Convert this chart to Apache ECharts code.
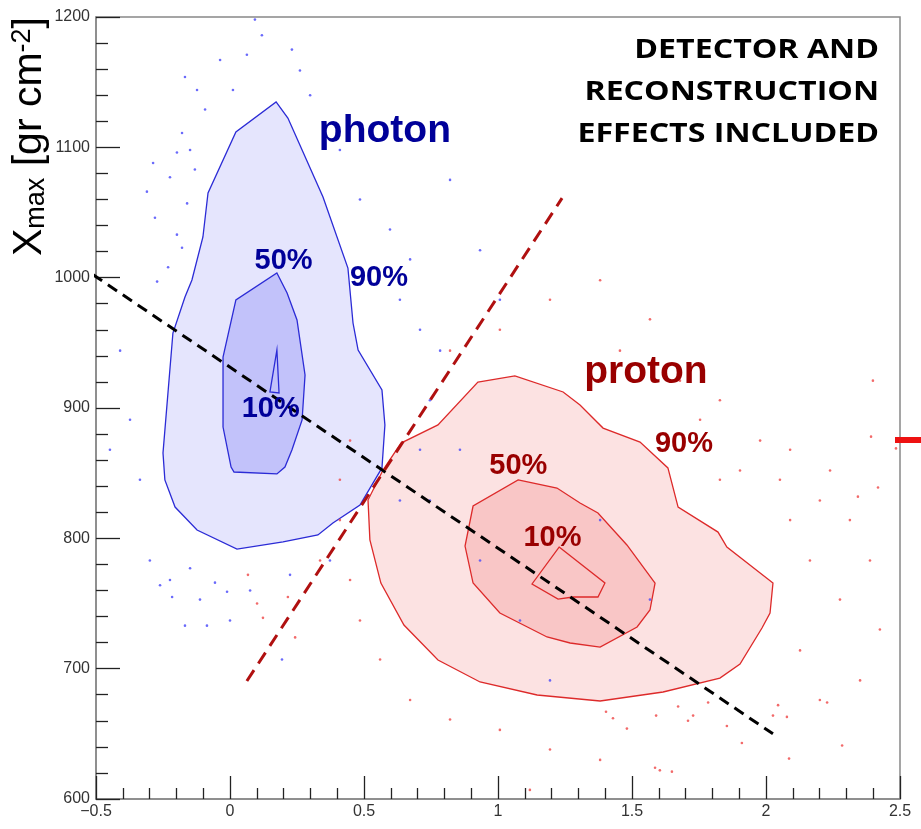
<!DOCTYPE html>
<html><head><meta charset="utf-8">
<script src="https://cdn.jsdelivr.net/npm/echarts@6/dist/echarts.min.js"></script>
<style>html,body{margin:0;padding:0;background:#fff}#c{width:921px;height:829px}</style>
</head><body><div id="c"></div>
<script>
// ---- tick labels ----
const xTickValues = [-0.5, 0, 0.5, 1, 1.5, 2, 2.5];
const xTickLabels = ['\u22120.5', '0', '0.5', '1', '1.5', '2', '2.5'];
const yTickValues = [600, 700, 800, 900, 1000, 1100, 1200];
const yTickLabels = ['600', '700', '800', '900', '1000', '1100', '1200'];

// ---- contours (x, Xmax) ----
const photon90 = [[0.172,1134.8],[0.216,1122.5],[0.347,1061.9],[0.440,1007.4],[0.459,965.2],[0.478,944.5],[0.567,913.8],[0.578,887.0],[0.567,854.0],[0.485,825.6],[0.384,811.8],[0.328,802.6],[0.198,797.2],[0.026,791.8],[-0.123,806.4],[-0.205,824.0],[-0.243,844.8],[-0.250,865.5],[-0.213,957.5],[-0.168,985.2],[-0.142,998.2],[-0.101,1031.2],[-0.082,1065.0],[0.022,1111.8]];
const photon50 = [[0.175,1003.6],[0.213,988.2],[0.250,967.5],[0.280,925.3],[0.269,890.8],[0.231,867.8],[0.205,854.7],[0.175,849.4],[0.015,850.9],[0.004,854.7],[-0.026,885.4],[-0.026,939.1],[0.022,982.9]];
const photon10 = [[0.175,944.5],[0.183,911.5],[0.149,912.3]];
const proton90 = [[0.925,919.9],[1.063,924.6],[1.243,912.3],[1.306,902.3],[1.392,884.6],[1.530,873.9],[1.634,854.0],[1.672,824.0],[1.821,804.8],[1.854,793.3],[2.026,765.7],[2.015,742.7],[1.985,731.2],[1.903,703.6],[1.828,692.8],[1.616,682.1],[1.381,675.2],[1.146,679.8],[0.933,689.8],[0.776,706.6],[0.649,733.5],[0.563,765.7],[0.522,798.7],[0.515,829.4],[0.571,852.4],[0.638,873.1],[0.776,887.0]];
const proton50 = [[1.075,844.8],[1.220,838.6],[1.306,827.1],[1.373,819.4],[1.481,794.9],[1.586,765.7],[1.567,745.0],[1.519,732.0],[1.381,716.6],[1.269,719.7],[1.183,724.3],[1.007,742.7],[0.907,765.7],[0.877,794.1],[0.907,824.8]];
const proton10 = [[1.228,793.3],[1.399,765.7],[1.373,755.0],[1.280,755.0],[1.224,753.4],[1.127,765.0]];

// ---- separation lines ----
const blackLine = [[-0.567,1010],[2.026,650]];
const redLine = [[0.063,690.5],[1.239,1061]];

// ---- scattered events outside the main contours ----
const photonDots = [[-0.168,1154],[-0.123,1144],[-0.179,1111],[-0.287,1088],[-0.310,1066],[-0.280,1046],[-0.224,1077],[-0.198,1096],[-0.149,1098],[-0.131,1083],[-0.160,1057],[-0.198,1033],[-0.179,1023],[-0.272,997],[-0.231,1008],[0.093,1198],[0.119,1186],[0.063,1171],[-0.037,1167],[0.011,1144],[0.231,1175],[0.261,1159],[0.299,1140],[-0.093,1129],[0.410,1098],[0.485,1060],[0.597,1037],[0.672,1014],[0.709,960],[0.634,983],[0.784,944],[0.746,906],[0.709,868],[0.634,829],[-0.410,944],[-0.373,891],[-0.336,845],[-0.448,868],[-0.299,783],[-0.224,768],[-0.112,753],[0.075,760],[0.224,772],[0.373,783],[0.000,737],[-0.261,764],[-0.216,755],[-0.168,733],[-0.086,733],[-0.056,766],[-0.011,759],[-0.149,777],[0.194,707],[0.746,829],[0.933,783],[1.082,737],[1.381,814],[1.567,753],[1.194,691],[0.858,868],[0.821,1075],[0.933,1021],[1.007,983]];
const protonDots = [[1.672,671],[1.728,664],[1.709,660],[1.784,674],[1.854,656],[1.910,643],[2.045,672],[2.026,664],[2.078,663],[2.086,631],[2.228,674],[2.284,641],[1.586,624],[1.649,621],[1.429,662],[1.481,654],[1.590,664],[1.403,667],[2.090,868],[2.201,829],[2.313,814],[2.388,783],[2.276,753],[2.425,730],[2.127,714],[2.351,691],[2.201,676],[2.090,814],[2.164,783],[2.239,852],[2.052,845],[1.978,875],[1.903,852],[1.828,845],[1.754,891],[1.828,906],[1.679,921],[1.455,944],[0.821,944],[1.007,960],[1.194,983],[1.381,998],[1.567,968],[0.672,676],[0.821,661],[1.007,653],[1.194,638],[1.381,630],[0.560,707],[0.485,737],[0.448,768],[0.410,814],[0.067,772],[0.101,750],[0.123,739],[0.243,724],[0.216,755],[2.399,921],[2.392,878],[2.418,839],[2.343,832],[2.485,869],[0.410,845],[0.448,875],[0.336,783],[1.119,607],[1.604,622]];

// ---- annotations ----
const photonLabels = ['photon', '50%', '90%', '10%'];
const photonLabelX = [0.578, 0.200, 0.556, 0.152];
const photonLabelY = [1112, 1012.8, 999.4, 899];
const protonLabels = ['proton', '50%', '90%', '10%'];
const protonLabelX = [1.552, 1.076, 1.694, 1.203];
const protonLabelY = [927.8, 855.5, 872.4, 800.5];
const noteLines = ['DETECTOR AND', 'RECONSTRUCTION', 'EFFECTS INCLUDED'];

const BLUE_LINE = '#2b2bd6', RED_LINE = '#dd2a2a';
const contourDefs = [
  {pts: photon90, fill: 'rgba(100,100,245,0.17)', stroke: BLUE_LINE},
  {pts: photon50, fill: 'rgba(100,100,245,0.27)', stroke: BLUE_LINE},
  {pts: photon10, fill: 'rgba(100,100,245,0)', stroke: BLUE_LINE},
  {pts: proton90, fill: 'rgba(240,100,100,0.19)', stroke: RED_LINE},
  {pts: proton50, fill: 'rgba(240,100,100,0.22)', stroke: RED_LINE},
  {pts: proton10, fill: 'rgba(240,100,100,0)', stroke: RED_LINE}
];

function labelSeries(texts, xs, ys, color) {
  return {
    type: 'scatter', z: 8, silent: true, symbolSize: 1,
    data: texts.map((t, i) => ({
      value: [xs[i], ys[i]],
      label: {fontSize: i === 0 ? 39 : 29}
    })),
    label: {
      show: true, position: 'inside', align: 'center', verticalAlign: 'middle', opacity: 1,
      formatter: p => texts[p.dataIndex],
      color: color, fontFamily: 'Liberation Sans', fontWeight: 'bold', fontSize: 29
    },
    labelLayout: {hideOverlap: false},
    emphasis: {disabled: true},
    itemStyle: {color: 'rgba(0,0,0,0)', opacity: 1}
  };
}

const chart = echarts.init(document.getElementById('c'));
const axisFont = {color: '#333', fontFamily: 'Liberation Sans', fontSize: 16};
chart.setOption({
  animation: false,
  backgroundColor: '#fff',
  grid: {left: 96, top: 17, right: 21, bottom: 30, show: true, borderColor: '#888', borderWidth: 1.5, outerBoundsMode: 'none'},
  xAxis: {
    type: 'value', min: -0.5, max: 2.5, interval: 0.5,
    axisLine: {show: true, onZero: false, lineStyle: {color: '#888', width: 1.5}},
    axisTick: {show: true, inside: true, length: 23, lineStyle: {color: '#222', width: 1.3}},
    minorTick: {show: true, splitNumber: 5, length: 11, lineStyle: {color: '#222', width: 1.3}},
    splitLine: {show: false}, minorSplitLine: {show: false},
    axisLabel: Object.assign({margin: 5, formatter: v => {
      const k = xTickValues.findIndex(t => Math.abs(t - v) < 1e-6); return k >= 0 ? xTickLabels[k] : '';
    }}, axisFont)
  },
  yAxis: {
    type: 'value', min: 600, max: 1200, interval: 100,
    axisLine: {show: true, onZero: false, lineStyle: {color: '#888', width: 1.5}},
    axisTick: {show: true, inside: true, length: 24, lineStyle: {color: '#222', width: 1.3}},
    minorTick: {show: true, splitNumber: 5, length: 12, lineStyle: {color: '#222', width: 1.3}},
    splitLine: {show: false}, minorSplitLine: {show: false},
    axisLabel: Object.assign({margin: 6, formatter: v => {
      const k = yTickValues.indexOf(Math.round(v)); return k >= 0 ? yTickLabels[k] : '';
    }}, axisFont)
  },
  series: [
    {
      type: 'custom', z: 2, silent: true, clip: true,
      data: contourDefs.map(c => c.pts[0]),
      renderItem: (params, api) => {
        const c = contourDefs[params.dataIndex];
        return {type: 'polygon', shape: {points: c.pts.map(p => api.coord(p))},
          style: {fill: c.fill, stroke: c.stroke, lineWidth: 1.3}};
      }
    },
    {type: 'scatter', z: 3, silent: true, symbol: 'circle', symbolSize: 2.6, data: photonDots, itemStyle: {color: 'rgba(80,80,250,0.85)', opacity: 1}},
    {type: 'scatter', z: 3, silent: true, symbol: 'circle', symbolSize: 2.6, data: protonDots, itemStyle: {color: 'rgba(240,80,80,0.85)', opacity: 1}},
    {type: 'line', z: 5, silent: true, clip: false, symbol: 'none', data: blackLine, lineStyle: {color: '#000', width: 3, type: [11, 7]}},
    {type: 'line', z: 5, silent: true, clip: false, symbol: 'none', data: redLine, lineStyle: {color: '#b01010', width: 3, type: [13, 8]}},
    labelSeries(photonLabels, photonLabelX, photonLabelY, '#000099'),
    labelSeries(protonLabels, protonLabelX, protonLabelY, '#990000')
  ],
  graphic: [
    {
      type: 'text', x: 29.5, y: 17, rotation: Math.PI / 2, z: 10,
      style: {
        text: '{a|X}{b|max}{a| [gr cm}{c|-2}{a|]}',
        align: 'right', verticalAlign: 'middle', fill: '#000',
        rich: {
          a: {fontFamily: 'Liberation Sans', fontSize: 41, fill: '#000', color: '#000'},
          b: {fontFamily: 'Liberation Sans', fontSize: 27, fill: '#000', color: '#000', verticalAlign: 'bottom'},
          c: {fontFamily: 'Liberation Sans', fontSize: 27, fill: '#000', color: '#000', verticalAlign: 'top'}
        }
      }
    },
    {
      type: 'text', x: 879, y: 29, z: 10, scaleX: 1.19,
      style: {
        text: noteLines.join('\n'), align: 'right', verticalAlign: 'top',
        font: 'bold 27px "Open Sans"', lineHeight: 42, fill: '#000'
      }
    },
    {type: 'rect', z: 20, shape: {x: 895, y: 437, width: 26, height: 6}, style: {fill: '#ee1111'}}
  ]
});
</script></body></html>
